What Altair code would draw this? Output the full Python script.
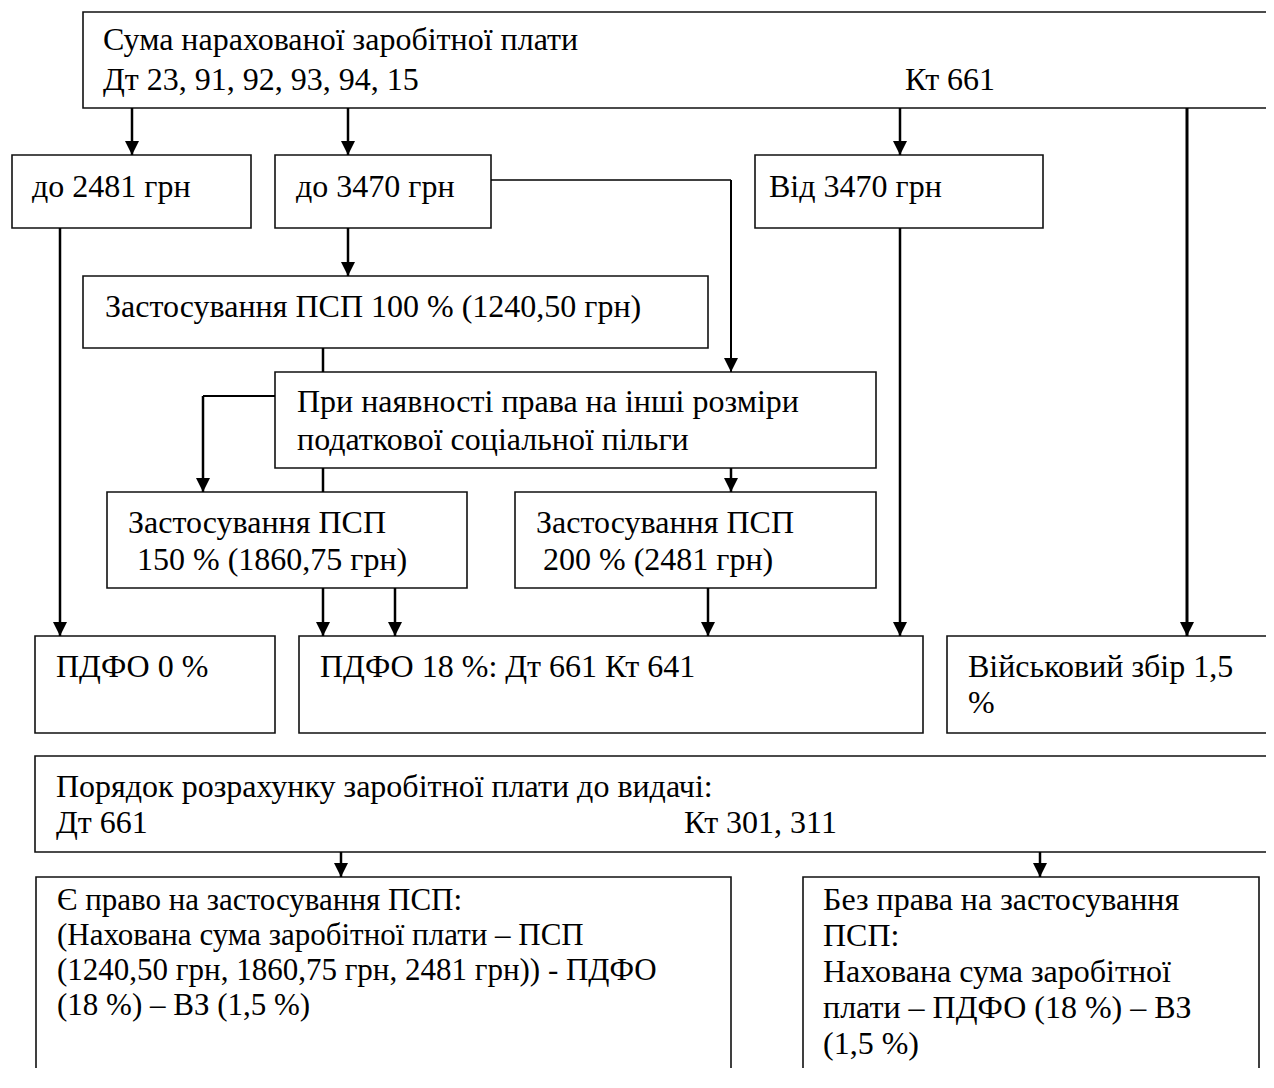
import altair as alt
import pandas as pd

# ---- boxes (reference-pixel layout) ----
box_x1 = [83, 12, 275, 755, 83, 275, 107, 515, 35, 299, 947, 35, 36, 803]
box_y1 = [12, 155, 155, 155, 276, 372, 492, 492, 636, 636, 636, 756, 877, 877]
box_x2 = [1300, 251, 491, 1043, 708, 876, 467, 876, 275, 923, 1300, 1300, 731, 1259]
box_y2 = [108, 228, 228, 228, 348, 468, 588, 588, 733, 733, 733, 852, 1100, 1100]

# ---- connectors ----
seg_x1 = [132, 348, 900, 1187, 491, 731, 348, 323, 275, 203, 323, 731, 323, 395, 708, 900, 60, 341, 1040]
seg_y1 = [108, 108, 108, 108, 180, 180, 228, 348, 396, 396, 468, 468, 588, 588, 588, 228, 228, 852, 852]
seg_x2 = [132, 348, 900, 1187, 731, 731, 348, 323, 203, 203, 323, 731, 323, 395, 708, 900, 60, 341, 1040]
seg_y2 = [155, 155, 155, 636, 180, 372, 276, 372, 396, 492, 492, 492, 636, 636, 636, 636, 636, 877, 877]
seg_arrow = [1, 1, 1, 1, 0, 1, 1, 0, 0, 1, 0, 1, 1, 1, 1, 1, 1, 1, 1]
seg_w = [2.5, 2.5, 2.5, 3, 1.5, 2, 2.5, 2.5, 2, 2.5, 2.5, 2.5, 2.5, 2.5, 2.5, 2.5, 2.5, 2.5, 2.5]

# ---- text lines (group 0 = regular, group 1 = condensed box) ----
txt_x = [103, 103, 905, 32, 296, 769, 105, 297, 297, 128, 137, 536, 543,
         56, 320, 968, 968, 56, 56, 684,
         57, 57, 57, 57,
         823, 823, 823, 823, 823]
txt_y = [50, 90, 90, 197, 197, 197, 317, 412, 450, 533, 570, 533, 570,
         677, 677, 677, 713, 797, 833, 833,
         910, 945, 980, 1015,
         910, 946, 982, 1018, 1054]
txt_g = [0] * 20 + [1] * 4 + [0] * 5
txt = ["Сума нарахованої заробітної  плати",
       "Дт 23, 91, 92, 93, 94, 15",
       "Кт 661",
       "до 2481 грн",
       "до 3470 грн",
       "Від 3470 грн",
       "Застосування ПСП 100 % (1240,50 грн)",
       "При наявності права на інші розміри",
       "податкової соціальної пільги",
       "Застосування ПСП",
       "150 % (1860,75 грн)",
       "Застосування ПСП",
       "200 % (2481 грн)",
       "ПДФО 0 %",
       "ПДФО 18 %: Дт 661 Кт 641",
       "Військовий збір 1,5",
       "%",
       "Порядок розрахунку заробітної плати до видачі:",
       "Дт 661",
       "Кт 301, 311",
       "Є право на застосування ПСП:",
       "(Нахована сума заробітної плати – ПСП",
       "(1240,50 грн, 1860,75 грн, 2481 грн)) - ПДФО",
       "(18 %) – ВЗ (1,5 %)",
       "Без права на застосування",
       "ПСП:",
       "Нахована сума заробітної",
       "плати – ПДФО (18 %) – ВЗ",
       "(1,5 %)"]

boxes = pd.DataFrame({"x1": box_x1, "y1": box_y1, "x2": box_x2, "y2": box_y2})
segs = pd.DataFrame({"x1": seg_x1, "y1": seg_y1, "x2": seg_x2, "y2": seg_y2,
                     "arrow": seg_arrow, "w": seg_w})
texts = pd.DataFrame({"x": txt_x, "y": txt_y, "t": txt, "g": txt_g})
arrows = segs[segs["arrow"] == 1]

W, H = 1258, 1060
xs = alt.Scale(domain=[8, 8 + W], nice=False, zero=False)
ys = alt.Scale(domain=[8, 8 + H], nice=False, zero=False, reverse=True)

rects = alt.Chart(boxes).mark_rect(fill="white", stroke="#111", strokeWidth=1.6, clip=True).encode(
    x=alt.X("x1:Q", scale=xs, axis=None), x2="x2:Q",
    y=alt.Y("y1:Q", scale=ys, axis=None), y2="y2:Q")

lines = alt.Chart(segs).mark_rule(color="#000", clip=True).encode(
    x=alt.X("x1:Q", scale=xs, axis=None), x2="x2:Q",
    y=alt.Y("y1:Q", scale=ys, axis=None), y2="y2:Q",
    strokeWidth=alt.StrokeWidth("w:Q", scale=None))

heads = alt.Chart(arrows).mark_point(
    shape="M-1,-1L1,-1L0,1Z", filled=True, fill="#000", opacity=1,
    size=196, yOffset=-7).encode(
    x=alt.X("x2:Q", scale=xs, axis=None),
    y=alt.Y("y2:Q", scale=ys, axis=None))

def text_layer(group, size):
    return alt.Chart(texts[texts["g"] == group]).mark_text(
        align="left", baseline="alphabetic", font="Liberation Serif",
        fontSize=size, color="#000").encode(
        x=alt.X("x:Q", scale=xs, axis=None),
        y=alt.Y("y:Q", scale=ys, axis=None),
        text="t:N")

chart = alt.layer(rects, lines, heads, text_layer(0, 32), text_layer(1, 31)).properties(
    width=W, height=H, padding=0, autosize=alt.AutoSizeParams(type="none")
).configure_view(stroke=None)

chart.save("out.html", embed_options={"renderer": "svg", "actions": False})
